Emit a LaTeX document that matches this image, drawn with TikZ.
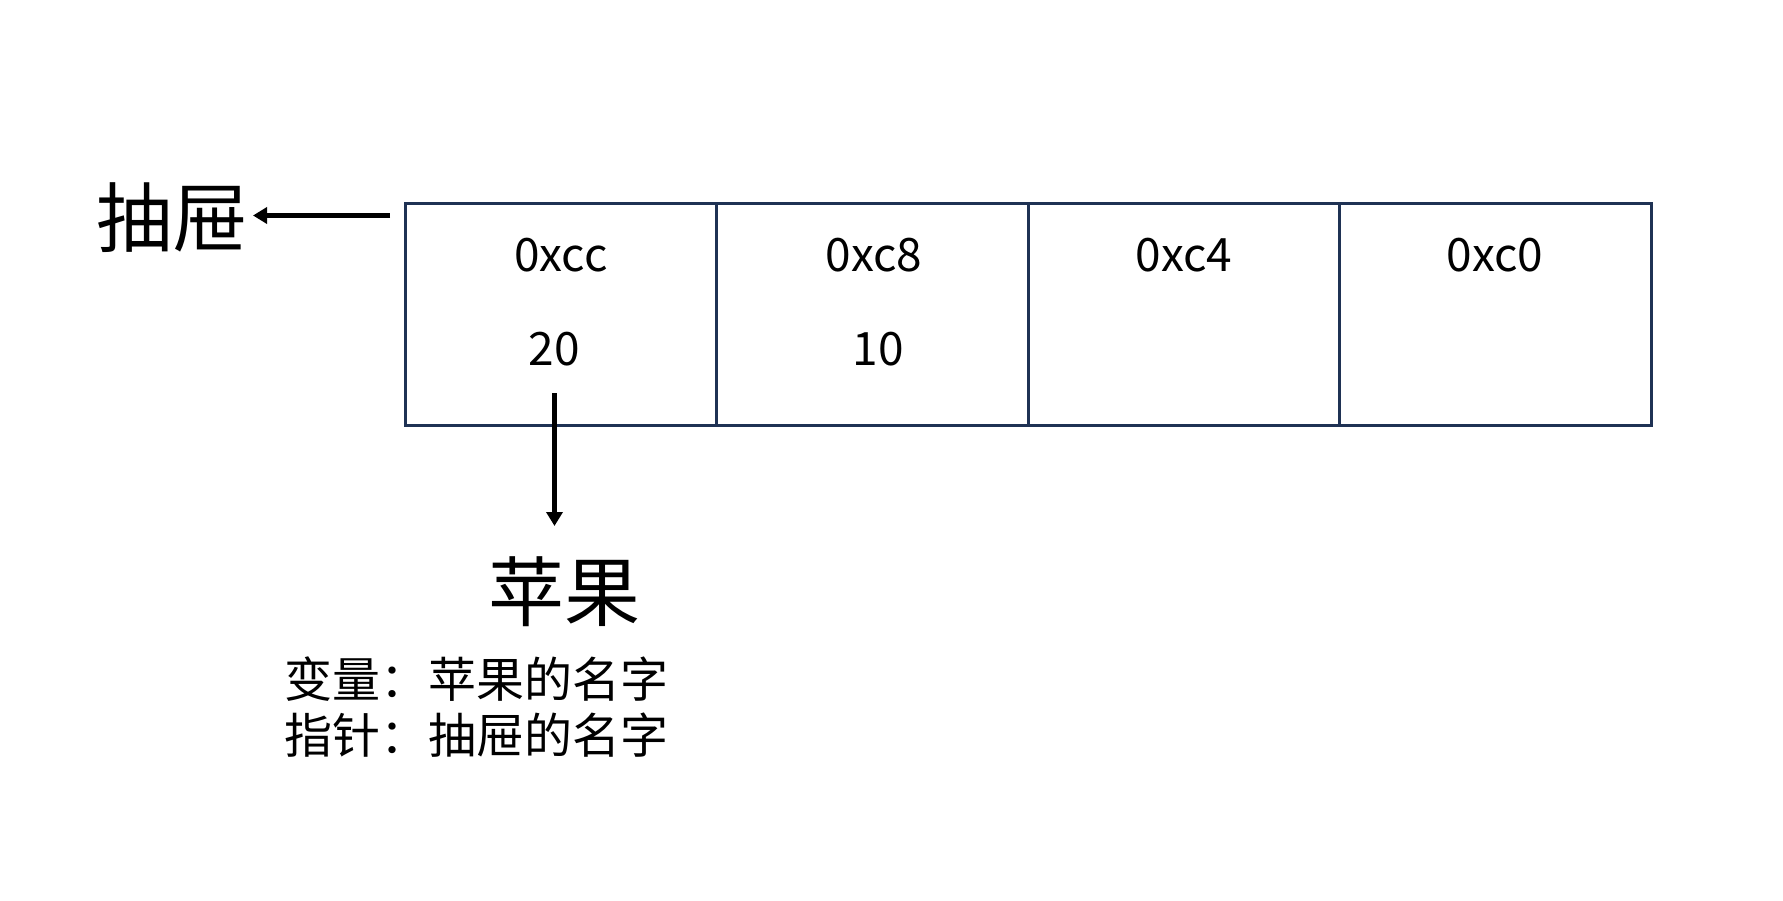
\documentclass[tikz,border=0pt]{standalone}
\usepackage{fontspec}
\setmainfont{Noto Sans CJK SC}
\usetikzlibrary{arrows.meta}
\definecolor{cellblue}{RGB}{31,50,84}
\begin{document}
\begin{tikzpicture}[x=1pt,y=-1pt,
  cell/.style={draw=cellblue, line width=3pt, minimum width=311.5pt, minimum height=221pt, inner sep=0pt, anchor=north west},
  addr/.style={font=\fontsize{46}{50}\selectfont, inner sep=0pt},
  big/.style={font=\fontsize{76}{80}\selectfont, inner sep=0pt},
  note/.style={font=\fontsize{48}{52}\selectfont, inner sep=0pt, anchor=west},
  arr/.style={draw=black, line width=4.5pt, -{Triangle[length=14pt,width=16pt]}}]
\useasboundingbox[fill=white] (0,0) rectangle (1783,901);
\node[cell] (c1) at (403.5,202.5) {};
\node[cell] (c2) at (715,202.5) {};
\node[cell] (c3) at (1026.5,202.5) {};
\node[cell] (c4) at (1338,202.5) {};
\node[addr] (a1) at (561,255) {0xcc};
\node[addr] (a2) at (874,255) {0xc8};
\node[addr] (a3) at (1184,255) {0xc4};
\node[addr] (a4) at (1495,255) {0xc0};
\node[addr] (v1) at (554,349) {20};
\node[addr] (v2) at (878,349) {10};
\node[big] (drawer) at (172,218) {抽屉};
\node[big] (apple) at (564,592) {苹果};
\node[note] (n1) at (284,679) {变量：苹果的名字};
\node[note] (n2) at (284,735) {指针：抽屉的名字};
\coordinate (dstart) at (390,215.5);
\coordinate (dend) at (253,215.5);
\coordinate (vstart) at (554.5,393);
\coordinate (vend) at (554.5,526);
\draw[arr] (dstart) -- (dend);
\draw[arr] (vstart) -- (vend);
\end{tikzpicture}
\end{document}
